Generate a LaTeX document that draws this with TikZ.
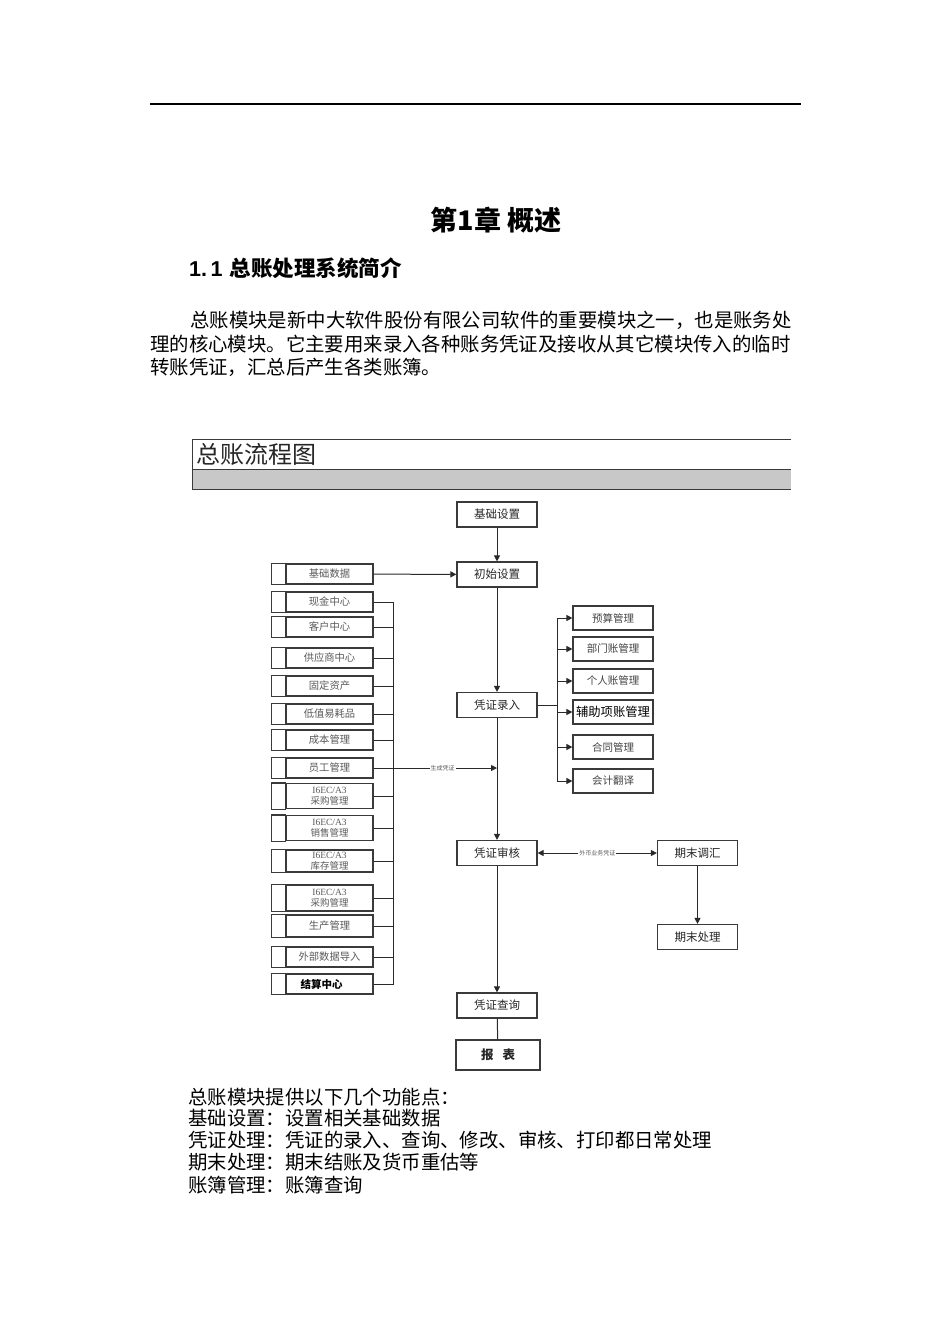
\documentclass[tikz,border=0pt]{standalone}
\usepackage{fontspec}
\setmainfont{Noto Sans CJK SC}
\newfontfamily\lserif{Liberation Serif}
\newfontfamily\lsans{Liberation Sans}
\usetikzlibrary{arrows.meta}
\definecolor{ln}{HTML}{2A2A2A}
\definecolor{bx}{HTML}{3A3A3A}
\definecolor{lt}{HTML}{5A5A5A}
\definecolor{rt}{HTML}{444444}
\definecolor{band}{HTML}{C8C8C8}
\tikzset{
  every node/.style={inner sep=0pt},
  mainbox/.style={draw=bx, line width=1.2pt, minimum width=80pt, minimum height=25pt, font=\fontsize{11.5pt}{13pt}\selectfont, text=black!85},
  leftbox/.style={draw=bx, line width=1.2pt, minimum width=87pt, minimum height=20pt, font=\fontsize{10.3pt}{11pt}\selectfont, text=lt, align=center},
  twoline/.style={font=\fontsize{9.5pt}{10.5pt}\selectfont},
  rightbox/.style={draw=bx, line width=1.2pt, minimum width=80pt, minimum height=24pt, font=\fontsize{10.5pt}{12pt}\selectfont, text=rt},
  cellline/.style={draw=bx, line width=1.2pt},
  conn/.style={draw=ln, line width=1pt},
  arr/.style={conn, -{Triangle[length=6pt,width=6pt]}},
  darr/.style={conn, {Triangle[length=6pt,width=6pt]}-{Triangle[length=6pt,width=6pt]}},
  tinylabel/.style={fill=white, font=\fontsize{6pt}{7pt}\selectfont, text=lt, inner sep=1pt},
  body/.style={anchor=west, font=\fontsize{19.4pt}{22pt}\selectfont},
}
\begin{document}
\begin{tikzpicture}[x=1pt,y=-1pt]
\useasboundingbox (0,0) rectangle (950,1344);
\fill[white] (0,0) rectangle (950,1344);

% top rule
\draw[line width=2pt, black] (150,104) -- (801,104);

% headings
\node[font=\fontsize{27pt}{30pt}\selectfont\bfseries] (chap) at (496,220) {第1章 概述};
\node[anchor=west, font=\fontsize{21.5pt}{24pt}\selectfont\bfseries] (sec) at (189,268) {{\lsans 1.\,1}\hspace{7pt}总账处理系统简介};

% paragraph
\node[body] (p1) at (190,320) {总账模块是新中大软件股份有限公司软件的重要模块之一，也是账务处};
\node[body] (p2) at (150,344) {理的核心模块。它主要用来录入各种账务凭证及接收从其它模块传入的临时};
\node[body] (p3) at (150,367) {转账凭证，汇总后产生各类账簿。};

% title band
\fill[band] (192,469) rectangle (791,489);
\draw[line width=1pt, bx] (791,439) -- (192,439) -- (192,489) -- (791,489);
\draw[line width=1pt, bx] (192,469) -- (791,469);
\node[anchor=west, font=\fontsize{24pt}{26pt}\selectfont, text=black!85] (ttl) at (196,454) {总账流程图};

% main column
\node[mainbox] (jc) at (497,514.5) {基础设置};
\node[mainbox] (cs) at (497,574.5) {初始设置};
\node[mainbox] (lr) at (497,705) {凭证录入};
\node[mainbox] (sh) at (497,853) {凭证审核};
\node[mainbox] (cx) at (497,1005.5) {凭证查询};
\node[mainbox, minimum width=84pt, minimum height=30pt, font=\fontsize{12.5pt}{14pt}\selectfont\bfseries] (bb) at (498,1055) {报\hspace{9pt}表};
\node[mainbox] (tj) at (697.5,853) {期末调汇};
\node[mainbox] (cl) at (697.5,937) {期末处理};

% left column
\node[leftbox] (ld0) at (329.5,574) {基础数据};
\node[leftbox] (ld1) at (329.5,602) {现金中心};
\node[leftbox] (ld2) at (329.5,627) {客户中心};
\node[leftbox] (ld3) at (329.5,658) {供应商中心};
\node[leftbox] (ld4) at (329.5,686) {固定资产};
\node[leftbox] (ld5) at (329.5,714) {低值易耗品};
\node[leftbox] (ld6) at (329.5,740) {成本管理};
\node[leftbox] (ld7) at (329.5,768) {员工管理};
\node[leftbox, twoline, minimum height=25pt] (ld8) at (329.5,796) {{\lserif I6EC/A3}\\采购管理};
\node[leftbox, twoline, minimum height=25pt] (ld9) at (329.5,828) {{\lserif I6EC/A3}\\销售管理};
\node[leftbox, twoline, minimum height=22pt] (ld10) at (329.5,861) {{\lserif I6EC/A3}\\库存管理};
\node[leftbox, twoline, minimum height=26pt] (ld11) at (329.5,898) {{\lserif I6EC/A3}\\采购管理};
\node[leftbox, minimum height=22pt] (ld12) at (329.5,926) {生产管理};
\node[leftbox] (ld13) at (329.5,957) {外部数据导入};
\node[leftbox, text=black, font=\fontsize{10.5pt}{12pt}\selectfont\bfseries] (ld14) at (329.5,984) {\hspace{-16pt}结算中心};
\foreach \n in {ld0,ld1,ld2,ld3,ld4,ld5,ld6,ld7,ld8,ld9,ld10,ld11,ld12,ld13,ld14}
  \draw[cellline] ([xshift=-14pt]\n.south west) rectangle (\n.north west);

% right column
\node[rightbox] (r1) at (613,618) {预算管理};
\node[rightbox] (r2) at (613,649) {部门账管理};
\node[rightbox] (r3) at (613,681) {个人账管理};
\node[rightbox, text=black, font=\fontsize{12.3pt}{13pt}\selectfont] (r4) at (613,712) {辅助项账管理};
\node[rightbox] (r5) at (613,747) {合同管理};
\node[rightbox] (r6) at (613,781) {会计翻译};

% connectors
\draw[arr] (jc) -- (cs);
\draw[arr] (ld0) -- (cs);
\draw[arr] (cs) -- (lr);
\draw[arr] (lr) -- (sh);
\draw[arr] (sh) -- (cx);
\draw[conn] (cx) -- (bb);
\draw[arr] (tj) -- (cl);
\draw[darr] (sh) -- node[tinylabel] (wb) {外币业务凭证} (tj);

\coordinate (bus) at (393,768);
\coordinate (jn) at (497,768);
\foreach \n in {ld1,ld2,ld3,ld4,ld5,ld6,ld8,ld9,ld10,ld11,ld12,ld13,ld14}
  \draw[conn] (\n.east) -| (bus);
\draw[arr] (ld7.east) -- node[tinylabel, pos=0.56] (scpz) {生成凭证} (jn);

\coordinate (rv) at (557,705);
\draw[conn] (lr.east) -- (rv);
\foreach \n in {r1,r2,r3,r4,r5,r6}
  \draw[arr] (rv) |- (\n.west);

% bottom list
\node[body] (b1) at (188,1097) {总账模块提供以下几个功能点：};
\node[body] (b2) at (188,1118) {基础设置：设置相关基础数据};
\node[body] (b3) at (188,1140) {凭证处理：凭证的录入、查询、修改、审核、打印都日常处理};
\node[body] (b4) at (188,1162) {期末处理：期末结账及货币重估等};
\node[body] (b5) at (188,1185) {账簿管理：账簿查询};
\end{tikzpicture}
\end{document}
